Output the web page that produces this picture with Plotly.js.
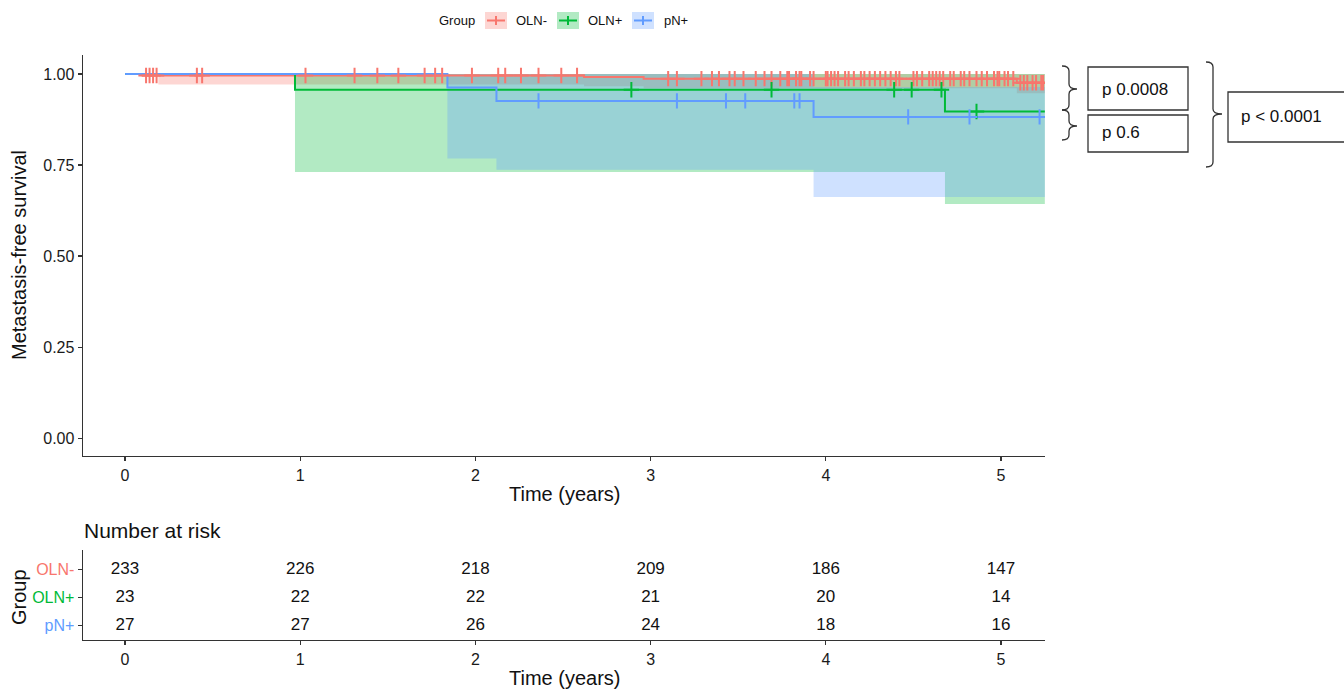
<!DOCTYPE html>
<html><head><meta charset="utf-8">
<script src="https://cdn.plot.ly/plotly-3.0.1.min.js"></script>
<style>html,body{margin:0;padding:0;background:#fff}#chart{width:1344px;height:689px}</style>
</head><body><div id="chart"></div>
<script>
// ---------- data ----------
const groups = ['OLN-', 'OLN+', 'pN+'];
const colors = ['#F8766D', '#00BA38', '#619CFF'];
const fills = ['rgba(248,118,109,0.3)', 'rgba(0,186,56,0.3)', 'rgba(97,156,255,0.3)'];
const tEnd = 5.25;

// survival step curves
const survTimesOLNneg = [0, 0.10, 2.62, 2.96, 5.09];
const survOLNneg      = [1, 0.9957, 0.9914, 0.987, 0.976];
const survTimesOLNpos = [0, 0.97, 4.68];
const survOLNpos      = [1, 0.9565, 0.897];
const survTimesPNpos  = [0, 1.84, 2.12, 3.93];
const survPNpos       = [1, 0.963, 0.926, 0.882];

// confidence bands
const bandTimesOLNneg = [0, 0.19, 2.62, 2.96, 5.09];
const lowerOLNneg     = [1, 0.971, 0.966, 0.961, 0.947];
const upperOLNneg     = [1, 1, 1, 1, 1];
const bandTimesOLNpos = [0, 0.97, 4.68];
const lowerOLNpos     = [1, 0.731, 0.643];
const upperOLNpos     = [1, 1, 1];
const bandTimesPNpos  = [0, 1.84, 2.12, 3.93];
const lowerPNpos      = [1, 0.768, 0.737, 0.662];
const upperPNpos      = [1, 1, 1, 0.964];

// censoring times
const censorOLNneg = [0.12, 0.14, 0.16, 0.18, 0.41, 0.44, 1.03, 1.31, 1.44, 1.56, 1.71, 1.77, 1.81, 1.98,
  2.13, 2.17, 2.26, 2.36, 2.49, 2.58, 3.10, 3.15, 3.29, 3.35, 3.39, 3.45, 3.48, 3.53, 3.60, 3.65,
  3.69, 3.74, 3.78, 3.79, 3.83, 3.85, 3.86, 3.91, 3.93, 4.00, 4.01, 4.03, 4.05, 4.07, 4.11, 4.13,
  4.16, 4.20, 4.22, 4.25, 4.28, 4.31, 4.34, 4.37, 4.40, 4.42, 4.50, 4.52, 4.55, 4.59, 4.61, 4.63,
  4.65, 4.67, 4.71, 4.73, 4.77, 4.79, 4.82, 4.86, 4.89, 4.92, 4.96, 4.98, 4.99, 5.02, 5.04, 5.07,
  5.11, 5.13, 5.15, 5.18, 5.20, 5.23, 5.24];
const censorOLNpos = [2.89, 3.69, 4.39, 4.49, 4.66, 4.86];
const censorPNpos  = [2.36, 3.15, 3.43, 3.54, 3.82, 3.85, 4.47, 4.82, 5.22];

// number at risk
const riskTimes  = [0, 1, 2, 3, 4, 5];
const riskOLNneg = [233, 226, 218, 209, 186, 147];
const riskOLNpos = [23, 22, 22, 21, 20, 14];
const riskPNpos  = [27, 27, 26, 24, 18, 16];

const yTickVals = [0, 0.25, 0.5, 0.75, 1];
const yTickText = ['0.00', '0.25', '0.50', '0.75', '1.00'];
const xTickVals = [0, 1, 2, 3, 4, 5];

// ---------- helpers ----------
const W = 1344, H = 689;
const px = x => x / W;
const py = y => 1 - y / H;
const FONT = 'Liberation Sans, Arial, sans-serif';

function stepValue(times, vals, t) {
  let v = vals[0];
  for (let i = 0; i < times.length; i++) if (times[i] <= t) v = vals[i];
  return v;
}
function stepLine(times, vals) {
  return { x: times.concat([tEnd]), y: vals.concat([vals[vals.length - 1]]) };
}
function bandPoly(times, lower, upper) {
  const xs = [], ys = [];
  for (let i = 0; i < times.length; i++) {
    const t1 = i + 1 < times.length ? times[i + 1] : tEnd;
    xs.push(times[i], t1); ys.push(upper[i], upper[i]);
  }
  for (let i = times.length - 1; i >= 0; i--) {
    const t1 = i + 1 < times.length ? times[i + 1] : tEnd;
    xs.push(t1, times[i]); ys.push(lower[i], lower[i]);
  }
  return { x: xs, y: ys };
}

const series = [
  { st: survTimesOLNneg, s: survOLNneg, bt: bandTimesOLNneg, lo: lowerOLNneg, up: upperOLNneg, c: censorOLNneg },
  { st: survTimesOLNpos, s: survOLNpos, bt: bandTimesOLNpos, lo: lowerOLNpos, up: upperOLNpos, c: censorOLNpos },
  { st: survTimesPNpos,  s: survPNpos,  bt: bandTimesPNpos,  lo: lowerPNpos,  up: upperPNpos,  c: censorPNpos }
];

const traces = [];
series.forEach((g, i) => {
  const b = bandPoly(g.bt, g.lo, g.up);
  traces.push({ x: b.x, y: b.y, type: 'scatter', mode: 'lines', fill: 'toself',
    fillcolor: fills[i], line: { width: 0 }, hoverinfo: 'skip', showlegend: false, xaxis: 'x', yaxis: 'y' });
});
series.forEach((g, i) => {
  const l = stepLine(g.st, g.s);
  traces.push({ x: l.x, y: l.y, type: 'scatter', mode: 'lines', line: { color: colors[i], width: 2, shape: 'hv' },
    name: groups[i], showlegend: false, xaxis: 'x', yaxis: 'y' });
});
series.forEach((g, i) => {
  traces.push({ x: g.c, y: g.c.map(t => stepValue(g.st, g.s, t)), type: 'scatter', mode: 'markers',
    marker: { symbol: 'cross-thin', size: 11, color: colors[i], line: { color: colors[i], width: 2 } },
    showlegend: false, hoverinfo: 'x+y', xaxis: 'x', yaxis: 'y' });
});
// risk table
const riskRows = [riskOLNneg, riskOLNpos, riskPNpos];
const rowY = [3, 2, 1];
riskRows.forEach((r, i) => {
  traces.push({ x: riskTimes, y: riskTimes.map(() => rowY[i]), text: r.map(String), type: 'scatter', mode: 'text',
    textposition: 'middle center', textfont: { family: FONT, size: 17, color: '#111' },
    showlegend: false, hoverinfo: 'skip', xaxis: 'x2', yaxis: 'y2' });
});

const axCommon = {
  showline: true, linecolor: '#333', linewidth: 1.4, ticks: 'outside', ticklen: 4, tickcolor: '#333', tickwidth: 1.2,
  showgrid: false, zeroline: false, automargin: false, tickfont: { family: FONT, size: 16, color: '#1a1a1a' }
};
const xDom = [px(83), px(1045)];

// ---------- shapes: p-value boxes, braces, legend ----------
const shapes = [];
function rectPx(x0, y0, x1, y1, extra) {
  shapes.push(Object.assign({ type: 'rect', xref: 'paper', yref: 'paper', x0: px(x0), x1: px(x1), y0: py(y1), y1: py(y0),
    line: { color: '#333', width: 1.3 }, fillcolor: 'rgba(0,0,0,0)' }, extra || {}));
}
function linePx(x0, y0, x1, y1, color, width) {
  shapes.push({ type: 'line', xref: 'paper', yref: 'paper', x0: px(x0), x1: px(x1), y0: py(y0), y1: py(y1),
    line: { color: color, width: width } });
}
function bracePx(xl, xv, xt, top, mid, bot) {
  const r = 5;
  const P = (x, y) => px(x) + ',' + py(y);
  const path = 'M' + P(xl, top) + ' Q' + P(xv, top) + ' ' + P(xv, top + r) + ' L' + P(xv, mid - r) +
    ' Q' + P(xv, mid) + ' ' + P(xt, mid) + ' Q' + P(xv, mid) + ' ' + P(xv, mid + r) +
    ' L' + P(xv, bot - r) + ' Q' + P(xv, bot) + ' ' + P(xl, bot);
  shapes.push({ type: 'path', xref: 'paper', yref: 'paper', path: path, line: { color: '#333', width: 1.3 } });
}
rectPx(1088, 67, 1188, 110);
rectPx(1088, 115, 1188, 152);
rectPx(1228, 92, 1346, 142);
bracePx(1062, 1069, 1077, 66, 89, 110);
bracePx(1062, 1069, 1077, 110, 126, 140);
bracePx(1206, 1213, 1222, 62, 114, 167);

// legend
const legX = [485, 557, 632];
legX.forEach((x, i) => {
  rectPx(x, 12, x + 22, 29, { line: { width: 0 }, fillcolor: fills[i] });
  linePx(x + 2, 20.5, x + 20, 20.5, colors[i], 2);
  linePx(x + 11, 16, x + 11, 25, colors[i], 2);
});

const ann = [];
function textPx(t, x, y, xa, size, extra) {
  ann.push(Object.assign({ text: t, xref: 'paper', yref: 'paper', x: px(x), y: py(y), xanchor: xa, yanchor: 'middle',
    showarrow: false, font: { family: FONT, size: size, color: '#111' } }, extra || {}));
}
textPx('Group', 437, 20.5, 'left', 13);
textPx('OLN-', 514, 20.5, 'left', 13);
textPx('OLN+', 586, 20.5, 'left', 13);
textPx('pN+', 662, 20.5, 'left', 13);
textPx('Metastasis-free survival', 19, 255, 'center', 20, { textangle: -90 });
textPx('Time (years)', 564, 494, 'center', 20);
textPx('Number at risk', 82, 530, 'left', 21);
textPx('Group', 19, 597, 'center', 20, { textangle: -90 });
textPx('Time (years)', 564, 678, 'center', 20);
textPx('p 0.0008', 1100, 89, 'left', 17);
textPx('p 0.6', 1100, 133, 'left', 17);
textPx('p < 0.0001', 1239, 117, 'left', 17);

const layout = {
  width: W, height: H, margin: { l: 0, r: 0, t: 0, b: 0 }, paper_bgcolor: '#fff', plot_bgcolor: '#fff',
  showlegend: false, font: { family: FONT },
  xaxis: Object.assign({}, axCommon, { domain: xDom, range: [-0.24, 5.251], tickvals: xTickVals, anchor: 'y' }),
  yaxis: Object.assign({}, axCommon, { domain: [py(456), py(55)], range: [-0.049, 1.052], tickvals: yTickVals,
    ticktext: yTickText, anchor: 'x' }),
  xaxis2: Object.assign({}, axCommon, { domain: xDom, range: [-0.24, 5.251], tickvals: xTickVals, anchor: 'y2' }),
  yaxis2: Object.assign({}, axCommon, { domain: [py(640), py(550)], range: [0.48, 3.695], tickvals: rowY,
    ticktext: groups.map((g, i) => '<span style="color:' + colors[i] + '">' + g + '</span>'),
    tickfont: { family: FONT, size: 16, color: '#222' }, anchor: 'x2' }),
  shapes: shapes, annotations: ann
};

Plotly.newPlot('chart', traces, layout, { displayModeBar: false, staticPlot: true });
</script>
</body></html>
